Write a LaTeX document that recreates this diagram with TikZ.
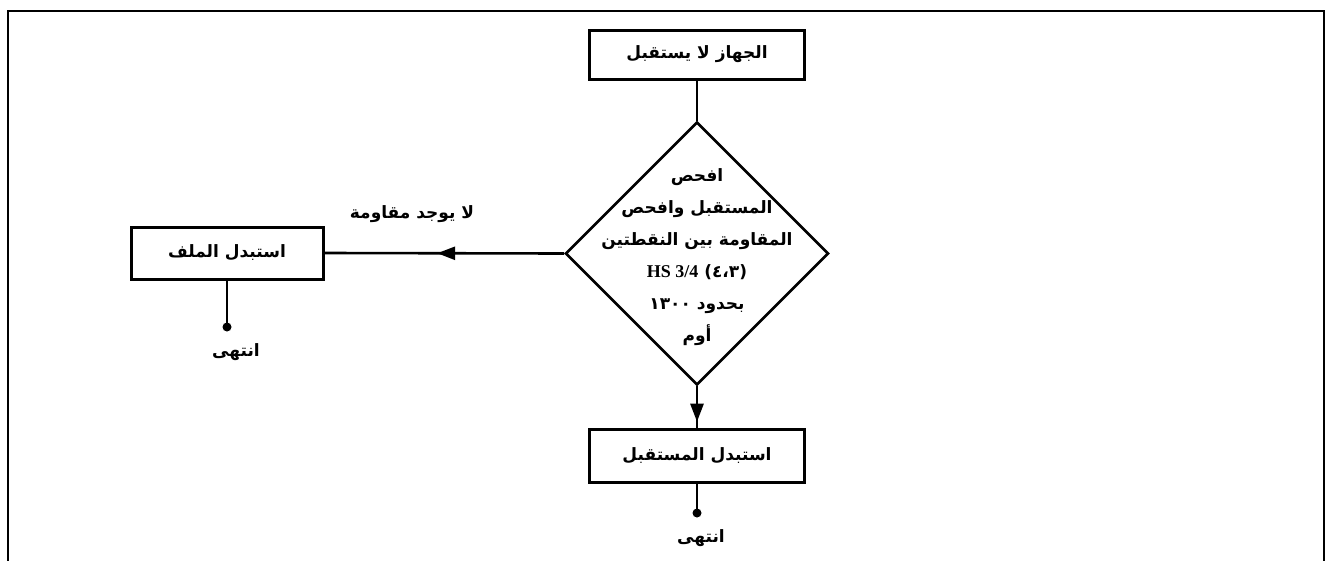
\documentclass[tikz,border=0pt]{standalone}
\usepackage{fontspec}
\setmainfont{Liberation Serif}
\newfontfamily\arabicfont[Script=Arabic]{DejaVu Sans}
\TeXXeTstate=1
\usetikzlibrary{arrows.meta,decorations.markings,shapes.geometric}
\tikzset{
  frameline/.style={line width=2.8pt, line cap=rect},
  procbox/.style={draw, line width=3pt, inner sep=0pt,
    font=\arabicfont\bfseries\fontsize{17}{20}\selectfont},
  decision/.style={draw, shape=diamond, aspect=1, line width=2.6pt, inner sep=0pt,
    minimum width=263pt, minimum height=263pt},
  dtext/.style={align=center, inner sep=0pt,
    font=\arabicfont\bfseries\fontsize{17}{32}\selectfont},
  lbl/.style={inner sep=1pt, font=\arabicfont\bfseries\fontsize{17}{20}\selectfont},
  conn/.style={line width=2.6pt},
  enddot/.style={circle, fill, inner sep=0pt, minimum size=9pt},
  midarrow/.style={postaction={decorate}, decoration={markings,
    mark=at position #1 with {\arrow{Triangle[length=18pt,width=13pt]}}}}
}
\begin{document}
\begin{tikzpicture}[x=1pt,y=-1pt]
\useasboundingbox (0,0) rectangle (1326,560);
\draw[frameline] (8,562) -- (8,11) -- (1324,11) -- (1324,562);

\node[procbox, minimum width=215pt, minimum height=49pt] (top) at (697,54.5) {\beginR الجهاز لا يستقبل\endR};
\node[decision] (dec) at (697,253.5) {};
\node[dtext] (dect) at (697,257) {\beginR افحص\endR\\
\beginR المستقبل وافحص\endR\\
\beginR المقاومة بين النقطتين\endR\\
\beginR (٤،٣) \beginL{\rmfamily\bfseries\fontsize{18}{32}\selectfont HS 3/4}\endL\endR\\
\beginR بحدود ١٣٠٠\endR\\
\beginR أوم\endR};
\node[procbox, minimum width=192pt, minimum height=52pt] (lbox) at (227,253) {\beginR استبدل الملف\endR};
\node[procbox, minimum width=215pt, minimum height=53pt] (bbox) at (697,455.5) {\beginR استبدل المستقبل\endR};
\node[lbl] (nores) at (412,214) {\beginR لا يوجد مقاومة\endR};
\node[enddot] (ld) at (227,327) {};
\node[lbl] (lend) at (236,352) {\beginR انتهى\endR};
\node[enddot] (bd) at (697,513) {};
\node[lbl] (bend) at (701,538) {\beginR انتهى\endR};

\draw[conn] (top.south) -- (dec.north);
\draw[conn, midarrow=0.53] (dec.west) -- (lbox.east);
\draw[conn, midarrow=0.86] (dec.south) -- (bbox.north);
\draw[conn] (lbox.south) -- (ld.center);
\draw[conn] (bbox.south) -- (bd.center);
\end{tikzpicture}
\end{document}
